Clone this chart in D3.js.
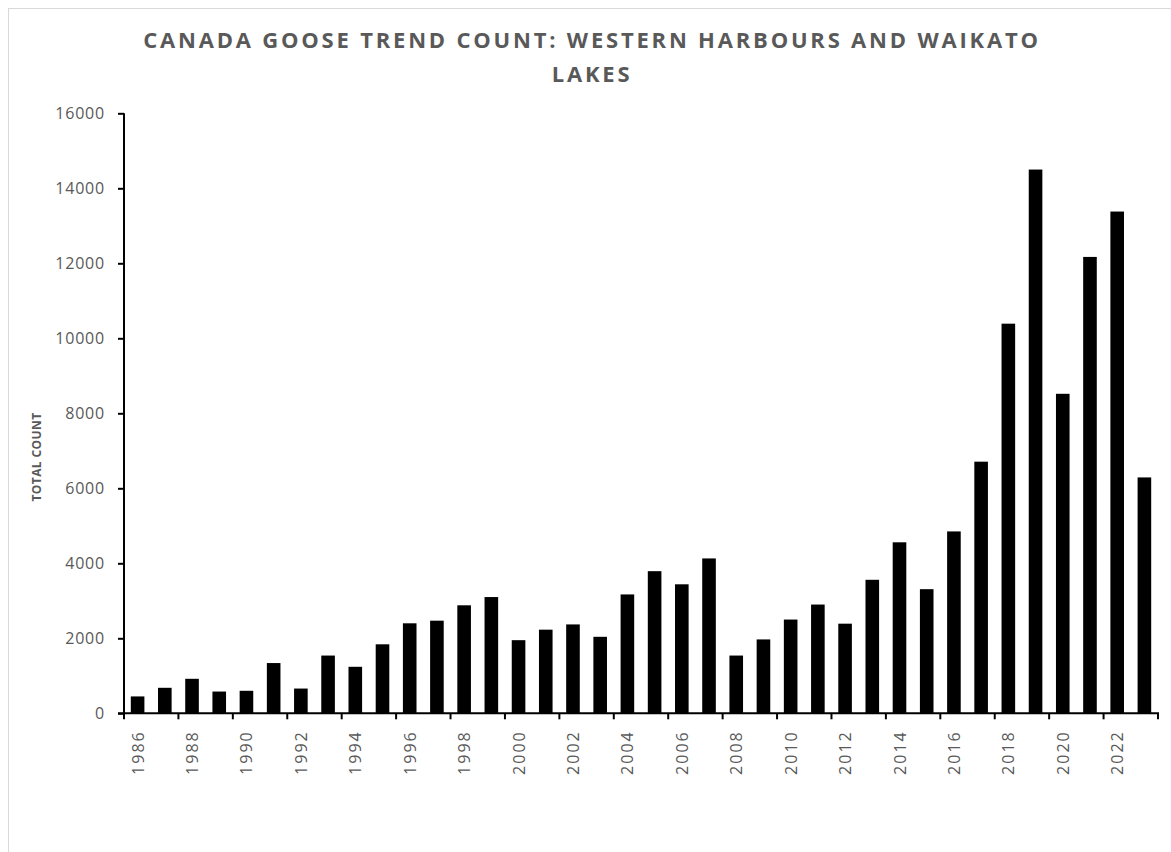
<!DOCTYPE html>
<html>
<head>
<meta charset="utf-8">
<script src="https://cdn.jsdelivr.net/npm/d3@7"></script>
<style>
  html, body { margin: 0; padding: 0; background: #fff; }
  svg { display: block; }
</style>
</head>
<body>
<svg id="chart" width="1171" height="852"></svg>
<script>
// Canada goose trend counts, one value per survey year
const years = [1986, 1987, 1988, 1989, 1990, 1991, 1992, 1993, 1994, 1995,
  1996, 1997, 1998, 1999, 2000, 2001, 2002, 2003, 2004, 2005,
  2006, 2007, 2008, 2009, 2010, 2011, 2012, 2013, 2014, 2015,
  2016, 2017, 2018, 2019, 2020, 2021, 2022, 2023];
const counts = [450, 680, 920, 580, 600, 1340, 660, 1540, 1240, 1840,
  2400, 2470, 2880, 3100, 1950, 2230, 2370, 2040, 3170, 3790,
  3440, 4130, 1540, 1970, 2500, 2900, 2390, 3560, 4560, 3310,
  4850, 6710, 10390, 14500, 8520, 12170, 13380, 6290];
const yTicks = [0, 2000, 4000, 6000, 8000, 10000, 12000, 14000, 16000];
const titleLines = ["CANADA GOOSE TREND COUNT: WESTERN HARBOURS AND WAIKATO", "LAKES"];
const yTitle = "TOTAL COUNT";

const svg = d3.select("#chart");
const font = "'Open Sans', 'DejaVu Sans', sans-serif";
const textGrey = "#595959";

// chart-area frame
svg.append("rect")
  .attr("x", 8.5).attr("y", 8.5)
  .attr("width", 1175).attr("height", 860)
  .attr("fill", "#fff")
  .attr("stroke", "#d9d9d9").attr("stroke-width", 1);

const plot = { left: 124, right: 1158, top: 113.3, bottom: 713.3 };

const x = d3.scaleBand()
  .domain(years)
  .range([plot.left, plot.right])
  .paddingInner(0.5)
  .paddingOuter(0.25);

const y = d3.scaleLinear()
  .domain([0, 16000])
  .range([plot.bottom, plot.top]);

// title
svg.append("g")
  .selectAll("text")
  .data(titleLines)
  .join("text")
  .attr("x", 592)
  .attr("y", (d, i) => 48 + i * 34)
  .attr("text-anchor", "middle")
  .attr("font-family", font)
  .attr("font-weight", 700)
  .attr("font-size", 22)
  .attr("letter-spacing", 2.8)
  .attr("fill", textGrey)
  .text(d => d);

// bars
svg.append("g")
  .selectAll("rect")
  .data(years.map((yr, i) => ({ yr, v: counts[i] })))
  .join("rect")
  .attr("x", d => x(d.yr))
  .attr("width", x.bandwidth())
  .attr("y", d => y(d.v))
  .attr("height", d => y(0) - y(d.v))
  .attr("fill", "#000");

// y axis
const yAxis = svg.append("g")
  .attr("transform", `translate(${plot.left},0)`)
  .call(d3.axisLeft(y).tickValues(yTicks).tickSize(6).tickPadding(13).tickFormat(d3.format("d")));
yAxis.select(".domain").attr("stroke", "#000").attr("stroke-width", 2)
  .attr("d", `M0,${plot.top}V${plot.bottom + 1}`);
yAxis.selectAll(".tick line").attr("stroke", "#000").attr("stroke-width", 2);
yAxis.selectAll(".tick text")
  .attr("font-family", font).attr("font-size", 16)
  .attr("letter-spacing", 0.8)
  .attr("fill", textGrey);

// x axis: line, boundary ticks every second category, rotated year labels
const step = x.step();
const xg = svg.append("g");
xg.append("line")
  .attr("x1", plot.left - 6).attr("x2", plot.right + 1)
  .attr("y1", y(0)).attr("y2", y(0))
  .attr("stroke", "#000").attr("stroke-width", 2);

const boundaries = years.filter((d, i) => i % 2 === 0)
  .map(d => x(d) - step * x.paddingOuter())
  .concat([x(years[years.length - 1]) + x.bandwidth() + step * x.paddingOuter()]);
xg.selectAll("line.tick")
  .data(boundaries)
  .join("line")
  .attr("class", "tick")
  .attr("x1", d => d).attr("x2", d => d)
  .attr("y1", y(0)).attr("y2", y(0) + 6)
  .attr("stroke", "#000").attr("stroke-width", 2);

xg.selectAll("text")
  .data(years.filter((d, i) => i % 2 === 0))
  .join("text")
  .attr("transform", d => `translate(${x(d) + x.bandwidth() / 2 + 6},${y(0) + 17}) rotate(-90)`)
  .attr("text-anchor", "end")
  .attr("font-family", font)
  .attr("font-size", 16)
  .attr("letter-spacing", 2)
  .attr("fill", textGrey)
  .text(d => d);

// y axis title
svg.append("text")
  .attr("transform", `translate(41,457) rotate(-90)`)
  .attr("text-anchor", "middle")
  .attr("font-family", font)
  .attr("font-weight", 700)
  .attr("font-size", 12)
  .attr("letter-spacing", 0.4)
  .attr("fill", textGrey)
  .text(yTitle);
</script>
</body>
</html>
